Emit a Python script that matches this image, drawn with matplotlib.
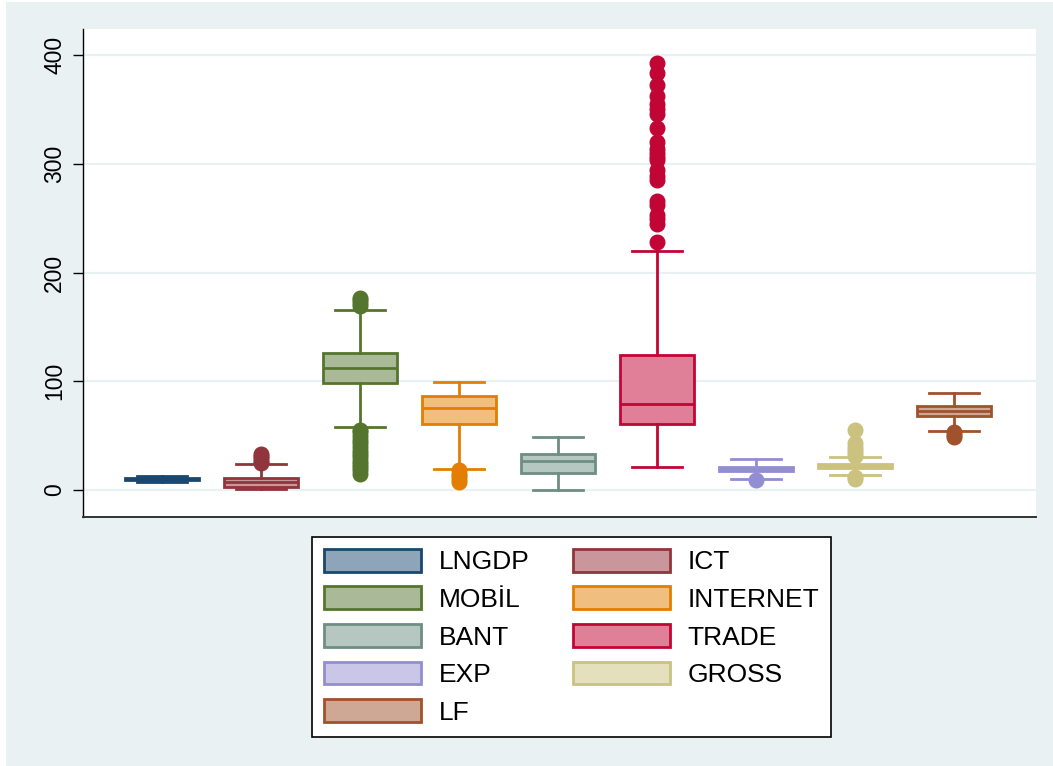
import matplotlib
matplotlib.use("Agg")
import matplotlib.pyplot as plt
from matplotlib.patches import Patch, Rectangle

plt.rcParams['font.family'] = ['Liberation Sans', 'DejaVu Sans']

# --- DATA ---
names = ["LNGDP", "ICT", "MOBİL", "INTERNET", "BANT", "TRADE", "EXP", "GROSS", "LF"]
medians = [10.0, 7.4, 112, 75.4, 26.7, 79, 19.5, 22, 72.6]
q1s = [9.3, 2.8, 98.4, 60.7, 15.6, 60.7, 17.5, 20, 68]
q3s = [10.8, 11, 126, 86.4, 33, 124, 21, 24, 77]
whis_lo = [7.5, 1, 58, 19.3, 0, 21, 10, 13.8, 54]
whis_hi = [12.5, 24, 165.5, 99.3, 48.7, 220, 28.5, 30, 89]
outliers = [
    [],
    [25, 27, 29, 31, 33],
    [15, 18, 21, 24, 27, 30, 33, 36, 40, 43, 46, 50, 53, 55, 169, 172, 175, 177],
    [7.5, 10, 12.5, 15, 18],
    [],
    [228, 245, 249, 253, 262, 266, 285, 289, 294, 303, 306, 310, 314, 320,
     333, 346, 350, 355, 362, 372, 383, 393],
    [9],
    [10, 12, 31, 34, 37, 40, 43, 55],
    [49, 51, 53],
]
edge_colors = ["#1a476f", "#90353b", "#55752f", "#e37e00", "#6e8e84",
               "#c10534", "#938dd2", "#cac27e", "#a0522d"]
fill_colors = ["#8da4b9", "#c9979b", "#aab997", "#f0be7f", "#b6c6c1",
               "#e07f98", "#c9c6e8", "#e4e0be", "#cfa895"]
yticks = [0, 100, 200, 300, 400]

BG = "#eaf1f3"

fig = plt.figure(figsize=(10.53, 7.66), dpi=100, facecolor="white")
fig.patches.append(Rectangle((6 / 1053, 0), 1 - 6 / 1053, 1 - 2 / 766,
                             transform=fig.transFigure, facecolor=BG,
                             edgecolor="none", zorder=-10))

ax = fig.add_axes([83 / 1053, 1 - 517 / 766, 953 / 1053, 488 / 766])
ax.set_facecolor("white")

for i in range(len(names)):
    st = [dict(med=medians[i], q1=q1s[i], q3=q3s[i], whislo=whis_lo[i],
               whishi=whis_hi[i], fliers=outliers[i])]
    ec = edge_colors[i]
    ax.bxp(st, positions=[i + 1], widths=0.75, capwidths=0.5, patch_artist=True,
           showfliers=True,
           boxprops=dict(facecolor=fill_colors[i], edgecolor=ec, linewidth=2.0),
           medianprops=dict(color=ec, linewidth=2.0),
           whiskerprops=dict(color=ec, linewidth=2.0),
           capprops=dict(color=ec, linewidth=2.0),
           flierprops=dict(marker="o", markerfacecolor=ec, markeredgecolor=ec,
                           markersize=10.5, linestyle="none"))

ax.set_xlim(0.2, 9.83)
ax.set_ylim(-24.8, 423.9)
ax.set_yticks(yticks)
ax.set_yticklabels([str(t) for t in yticks], rotation=90, va="center", fontsize=16.5)
ax.tick_params(axis="y", length=7, width=1, pad=5, color="black")
ax.set_xticks([])
ax.yaxis.grid(True, color=BG, linewidth=1.6)
ax.set_axisbelow(True)
for s in ["top", "right"]:
    ax.spines[s].set_visible(False)
ax.spines["left"].set_color("black")
ax.spines["bottom"].set_color("#333333")
ax.spines["left"].set_linewidth(1.0)
ax.spines["bottom"].set_linewidth(1.4)

# legend: column-major ordering
handles = [Patch(facecolor=fill_colors[i], edgecolor=edge_colors[i], linewidth=2.0,
                 label=names[i]) for i in range(len(names))]
order = [0, 2, 4, 6, 8, 1, 3, 5, 7]
leg = fig.legend([handles[i] for i in order], [names[i] for i in order],
                 loc="upper center", bbox_to_anchor=(571.5 / 1053, 1 - 537 / 766),
                 ncol=2, fontsize=19, frameon=True, fancybox=False, framealpha=1,
                 facecolor="white", borderaxespad=0,
                 handlelength=3.7, handleheight=0.95, handletextpad=0.65,
                 columnspacing=1.65, labelspacing=0.46, borderpad=0.45)
leg.get_frame().set_edgecolor("black")
leg.get_frame().set_linewidth(1.2)

fig.savefig("out.png", dpi=100, facecolor=fig.get_facecolor())
